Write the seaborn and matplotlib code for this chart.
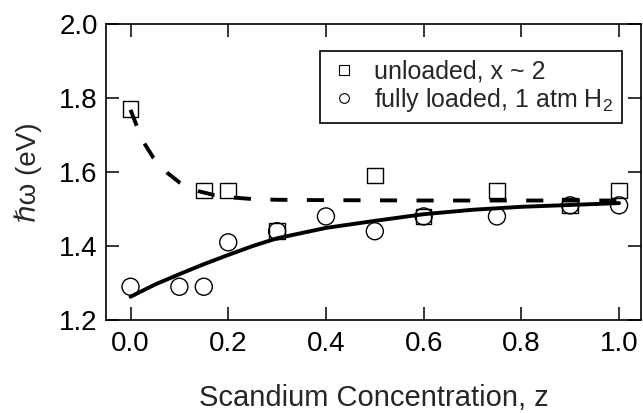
import numpy as np
import pandas as pd
import matplotlib
matplotlib.use("Agg")
import matplotlib.pyplot as plt
from matplotlib.lines import Line2D
import seaborn as sns

# measured points
z_unloaded = [0.0, 0.15, 0.2, 0.3, 0.5, 0.6, 0.75, 0.9, 1.0]
hw_unloaded = [1.77, 1.55, 1.55, 1.44, 1.59, 1.48, 1.55, 1.51, 1.55]

z_loaded = [0.0, 0.1, 0.15, 0.2, 0.3, 0.4, 0.5, 0.6, 0.75, 0.9, 1.0]
hw_loaded = [1.29, 1.29, 1.29, 1.41, 1.44, 1.48, 1.44, 1.48, 1.48, 1.51, 1.51]

# guide curves
z_dash = [0.0, 0.012, 0.027, 0.047, 0.076, 0.10, 0.14, 0.17, 0.21, 0.25, 0.30, 0.40, 0.60, 0.80, 1.00]
hw_dash = [1.768, 1.727, 1.680, 1.638, 1.597, 1.572, 1.548, 1.538, 1.531, 1.527, 1.525, 1.524, 1.523, 1.523, 1.523]

z_solid = [0.0, 0.05, 0.10, 0.15, 0.20, 0.25, 0.30, 0.40, 0.50, 0.60, 0.70, 0.80, 0.90, 1.00]
hw_solid = [1.263, 1.296, 1.324, 1.351, 1.376, 1.400, 1.421, 1.449, 1.468, 1.486, 1.498, 1.506, 1.511, 1.516]

sns.set_style("ticks")
plt.rcParams['font.family'] = ['Liberation Sans', 'DejaVu Sans']
plt.rcParams['mathtext.fontset'] = 'custom'
plt.rcParams['mathtext.rm'] = 'Liberation Sans'
plt.rcParams['mathtext.it'] = 'Liberation Sans:italic'

fig = plt.figure(figsize=(6.43, 4.13), dpi=100)
ax = fig.add_axes([0.165, 0.225, 0.832, 0.717])

df_u = pd.DataFrame({"z": z_unloaded, "hw": hw_unloaded})
df_l = pd.DataFrame({"z": z_loaded, "hw": hw_loaded})
df_d = pd.DataFrame({"z": z_dash, "hw": hw_dash})
df_s = pd.DataFrame({"z": z_solid, "hw": hw_solid})

sns.lineplot(data=df_d, x="z", y="hw", ax=ax, color="black", linewidth=2.8,
             linestyle=(0, (4.4, 5)), sort=False, zorder=2)
sns.lineplot(data=df_s, x="z", y="hw", ax=ax, color="black", linewidth=2.8,
             sort=False, zorder=2)
sns.scatterplot(data=df_u, x="z", y="hw", ax=ax, marker="s", s=125,
                facecolor="none", edgecolor="black", linewidth=1.0, zorder=3)
sns.scatterplot(data=df_l, x="z", y="hw", ax=ax, marker="o", s=150,
                facecolor="none", edgecolor="black", linewidth=1.0, zorder=3)
for coll in ax.collections:
    coll.set_facecolor("none")
    coll.set_edgecolor("black")

ax.set_xlim(-0.05, 1.045)
ax.set_ylim(1.2, 2.0)
ax.set_xticks([0.0, 0.2, 0.4, 0.6, 0.8, 1.0])
ax.set_yticks([1.2, 1.4, 1.6, 1.8, 2.0])
ax.xaxis.set_major_formatter(matplotlib.ticker.FormatStrFormatter('%.1f'))
ax.yaxis.set_major_formatter(matplotlib.ticker.FormatStrFormatter('%.1f'))
ax.tick_params(direction="in", length=9.5, width=1.1, top=True, right=True,
               labelsize=20, color="black", labelcolor="black")
ax.tick_params(axis="x", pad=8)
ax.tick_params(axis="y", pad=6)
for sp in ax.spines.values():
    sp.set_visible(True)
    sp.set_linewidth(1.2)
    sp.set_color("black")

ax.set_xlabel("Scandium Concentration, z", fontsize=21, labelpad=19)
ax.set_ylabel("\u210f\u03c9 (eV)", fontsize=20, labelpad=12)

handles = [
    Line2D([], [], marker="s", linestyle="none", markersize=6.5,
           markerfacecolor="none", markeredgecolor="black", markeredgewidth=0.8),
    Line2D([], [], marker="o", linestyle="none", markersize=7,
           markerfacecolor="none", markeredgecolor="black", markeredgewidth=0.8),
]
leg = ax.legend(handles, ["unloaded, x ~ 2", "fully loaded, 1 atm H$_2$"],
                loc="upper right", bbox_to_anchor=(0.964, 0.909), fontsize=18,
                frameon=True, fancybox=False, edgecolor="black",
                handlelength=1.2, handletextpad=0.6, borderpad=0.35,
                labelspacing=0.1, borderaxespad=0)
leg.get_frame().set_linewidth(1.2)
leg.get_frame().set_alpha(1)

fig.savefig("out.png", dpi=100)
